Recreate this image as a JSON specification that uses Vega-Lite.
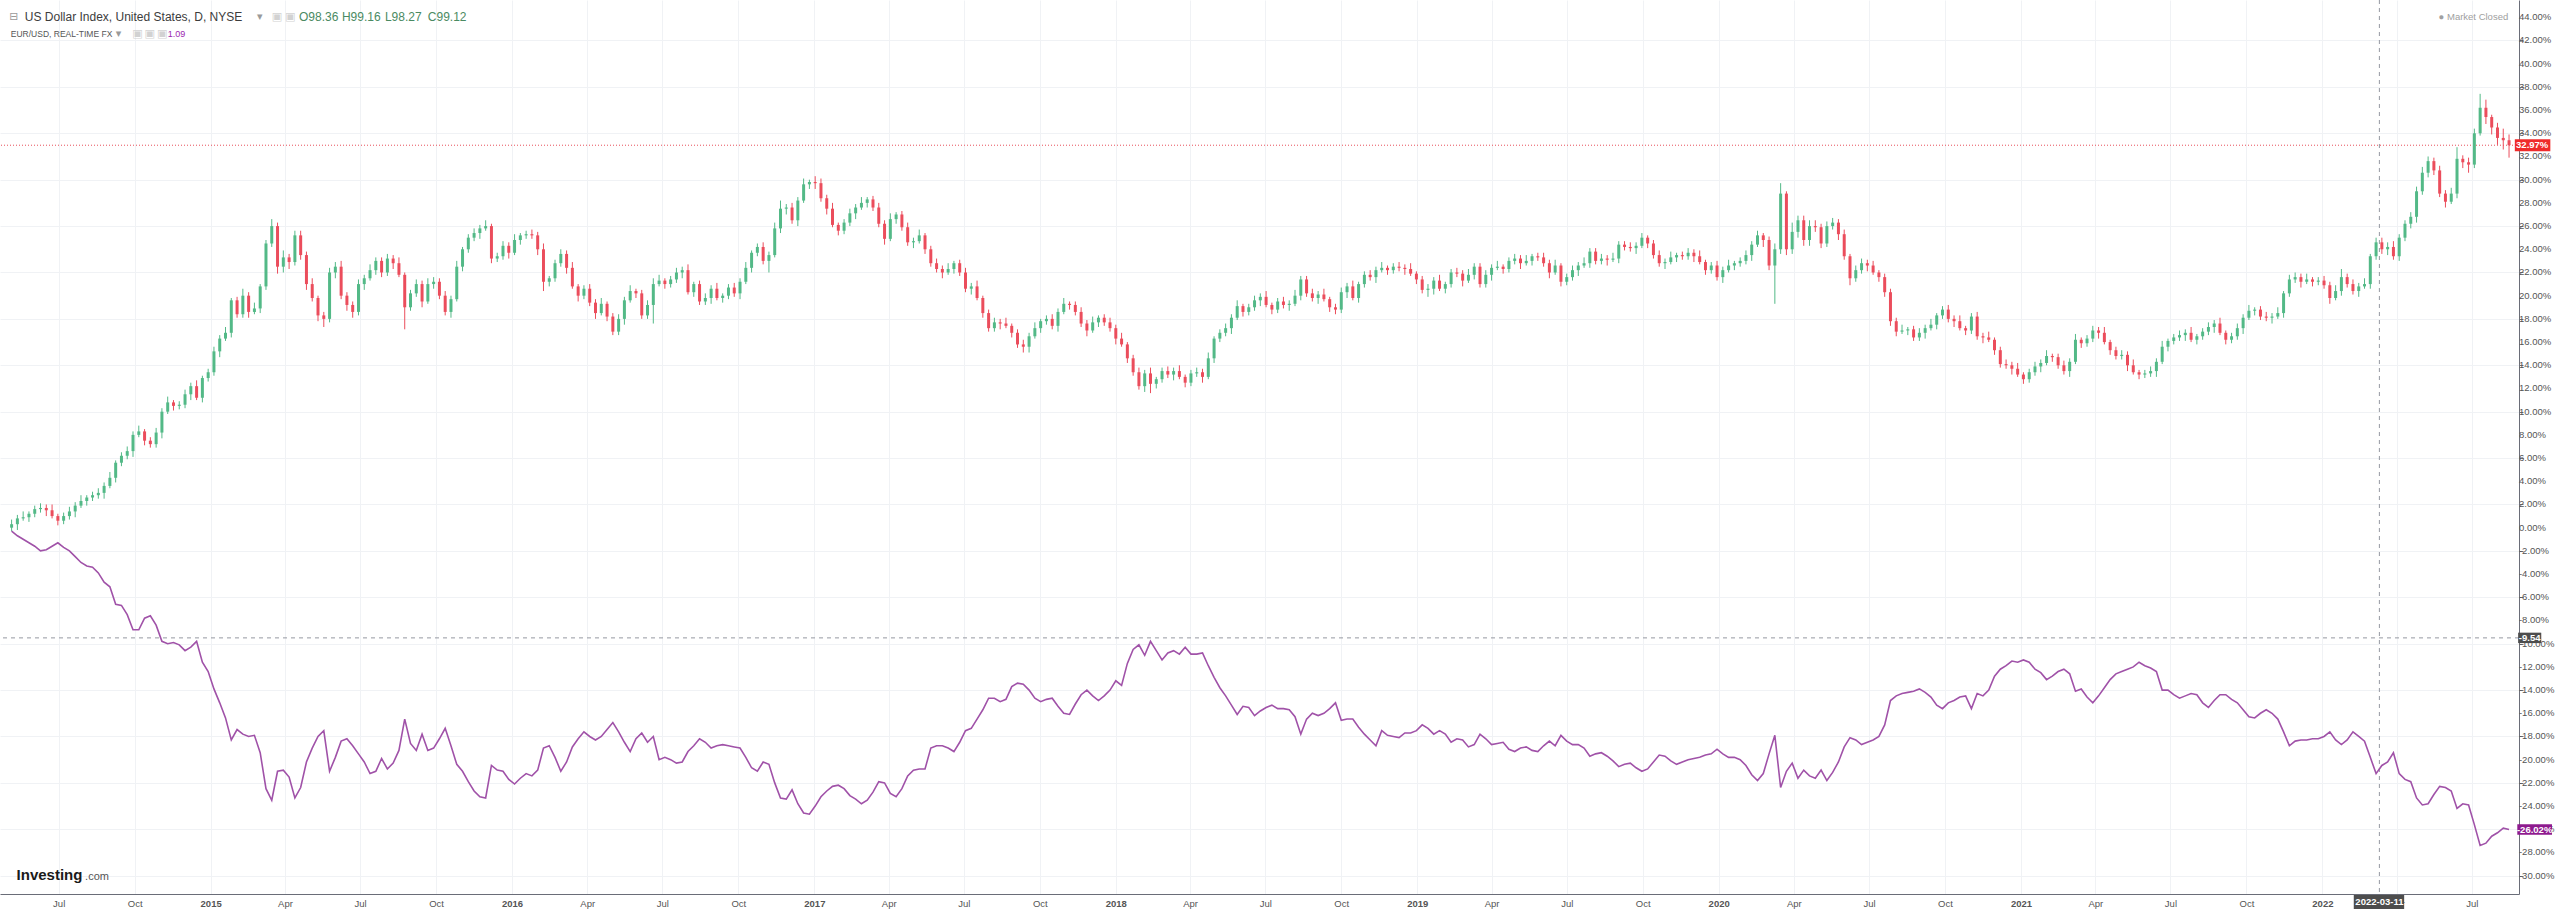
{
"$schema":"https://vega.github.io/schema/vega-lite/v6.json",
"width":2519,"height":894,"padding":{"left":0,"top":0,"right":41,"bottom":18},"autosize":{"type":"none"},
"background":"#ffffff",
"config":{"view":{"stroke":null},"font":"Liberation Sans"},
"datasets":{"w":[
{"d":"2014-05-05","o":0,"h":0.7,"l":-0.3,"c":0.3,"e":-0.3},
{"d":"2014-05-12","o":0.3,"h":1.1,"l":-0.2,"c":0.8,"e":-0.7},
{"d":"2014-05-19","o":0.8,"h":1.4,"l":0.6,"c":0.9,"e":-1.0},
{"d":"2014-05-26","o":0.9,"h":1.4,"l":0.5,"c":1.2,"e":-1.3},
{"d":"2014-06-02","o":1.2,"h":1.9,"l":0.9,"c":1.6,"e":-1.6},
{"d":"2014-06-09","o":1.6,"h":2.1,"l":1.3,"c":1.7,"e":-2.0},
{"d":"2014-06-16","o":1.7,"h":2.0,"l":1.0,"c":1.5,"e":-1.9},
{"d":"2014-06-23","o":1.5,"h":2.0,"l":0.8,"c":1.0,"e":-1.6},
{"d":"2014-06-30","o":1.0,"h":1.2,"l":0.2,"c":0.6,"e":-1.3},
{"d":"2014-07-07","o":0.6,"h":1.3,"l":0.3,"c":1.0,"e":-1.7},
{"d":"2014-07-14","o":1.0,"h":1.8,"l":0.7,"c":1.4,"e":-2.0},
{"d":"2014-07-21","o":1.4,"h":2.2,"l":0.9,"c":1.9,"e":-2.5},
{"d":"2014-07-28","o":1.9,"h":2.8,"l":1.7,"c":2.3,"e":-3.0},
{"d":"2014-08-04","o":2.3,"h":2.8,"l":1.9,"c":2.6,"e":-3.3},
{"d":"2014-08-11","o":2.6,"h":3.1,"l":2.3,"c":2.8,"e":-3.4},
{"d":"2014-08-18","o":2.8,"h":3.4,"l":2.5,"c":3.0,"e":-3.9},
{"d":"2014-08-25","o":3.0,"h":3.9,"l":2.5,"c":3.6,"e":-4.7},
{"d":"2014-09-01","o":3.6,"h":4.8,"l":3.4,"c":4.3,"e":-5.1},
{"d":"2014-09-08","o":4.3,"h":5.8,"l":3.9,"c":5.6,"e":-6.6},
{"d":"2014-09-15","o":5.6,"h":6.5,"l":5.3,"c":6.2,"e":-6.7},
{"d":"2014-09-22","o":6.2,"h":7.0,"l":5.9,"c":6.6,"e":-7.5},
{"d":"2014-09-29","o":6.6,"h":8.3,"l":6.1,"c":8.0,"e":-8.8},
{"d":"2014-10-06","o":8.0,"h":8.8,"l":7.8,"c":8.3,"e":-8.8},
{"d":"2014-10-13","o":8.3,"h":8.5,"l":7.1,"c":7.5,"e":-7.8},
{"d":"2014-10-20","o":7.5,"h":7.8,"l":6.9,"c":7.2,"e":-7.6},
{"d":"2014-10-27","o":7.2,"h":8.6,"l":6.9,"c":8.2,"e":-8.4},
{"d":"2014-11-03","o":8.2,"h":10.3,"l":7.7,"c":10.0,"e":-9.8},
{"d":"2014-11-10","o":10.0,"h":11.3,"l":9.8,"c":10.8,"e":-10.0},
{"d":"2014-11-17","o":10.8,"h":11.0,"l":10.1,"c":10.5,"e":-9.9},
{"d":"2014-11-24","o":10.5,"h":10.9,"l":10.2,"c":10.6,"e":-10.1},
{"d":"2014-12-01","o":10.6,"h":11.9,"l":10.3,"c":11.5,"e":-10.6},
{"d":"2014-12-08","o":11.5,"h":12.5,"l":11.0,"c":12.2,"e":-10.3},
{"d":"2014-12-15","o":12.2,"h":12.7,"l":11.0,"c":11.2,"e":-9.8},
{"d":"2014-12-22","o":11.2,"h":13.1,"l":10.8,"c":12.9,"e":-11.6},
{"d":"2014-12-29","o":12.9,"h":13.7,"l":12.6,"c":13.4,"e":-12.4},
{"d":"2015-01-05","o":13.4,"h":15.6,"l":13.1,"c":15.2,"e":-13.9},
{"d":"2015-01-12","o":15.2,"h":16.6,"l":14.7,"c":16.3,"e":-15.1},
{"d":"2015-01-19","o":16.3,"h":17.3,"l":16.1,"c":16.8,"e":-16.4},
{"d":"2015-01-26","o":16.8,"h":19.8,"l":16.4,"c":19.6,"e":-18.3},
{"d":"2015-02-02","o":19.6,"h":19.9,"l":18.1,"c":18.4,"e":-17.4},
{"d":"2015-02-09","o":18.4,"h":20.6,"l":18.1,"c":20.0,"e":-17.8},
{"d":"2015-02-16","o":20.0,"h":20.3,"l":18.1,"c":18.6,"e":-18.0},
{"d":"2015-02-23","o":18.6,"h":19.4,"l":18.4,"c":18.9,"e":-17.9},
{"d":"2015-03-02","o":18.9,"h":21.0,"l":18.5,"c":20.8,"e":-19.4},
{"d":"2015-03-09","o":20.8,"h":24.8,"l":20.5,"c":24.5,"e":-22.5},
{"d":"2015-03-16","o":24.5,"h":26.6,"l":24.2,"c":26.0,"e":-23.5},
{"d":"2015-03-23","o":26.0,"h":26.3,"l":21.9,"c":22.5,"e":-21.0},
{"d":"2015-03-30","o":22.5,"h":23.9,"l":22.0,"c":23.3,"e":-20.9},
{"d":"2015-04-06","o":23.3,"h":23.6,"l":22.3,"c":22.9,"e":-21.5},
{"d":"2015-04-13","o":22.9,"h":25.6,"l":22.6,"c":25.2,"e":-23.3},
{"d":"2015-04-20","o":25.2,"h":25.6,"l":23.1,"c":23.5,"e":-22.4},
{"d":"2015-04-27","o":23.5,"h":23.8,"l":20.5,"c":21.0,"e":-20.2},
{"d":"2015-05-04","o":21.0,"h":21.5,"l":19.5,"c":19.8,"e":-19.0},
{"d":"2015-05-11","o":19.8,"h":20.0,"l":17.8,"c":18.3,"e":-18.0},
{"d":"2015-05-18","o":18.3,"h":18.6,"l":17.3,"c":18.0,"e":-17.5},
{"d":"2015-05-25","o":18.0,"h":22.4,"l":17.7,"c":22.0,"e":-21.0},
{"d":"2015-06-01","o":22.0,"h":22.9,"l":21.5,"c":22.5,"e":-19.8},
{"d":"2015-06-08","o":22.5,"h":23.0,"l":19.7,"c":20.0,"e":-18.4},
{"d":"2015-06-15","o":20.0,"h":20.3,"l":18.7,"c":19.2,"e":-18.2},
{"d":"2015-06-22","o":19.2,"h":19.5,"l":18.1,"c":18.6,"e":-18.8},
{"d":"2015-06-29","o":18.6,"h":21.4,"l":18.3,"c":21.0,"e":-19.5},
{"d":"2015-07-06","o":21.0,"h":21.8,"l":20.5,"c":21.5,"e":-20.2},
{"d":"2015-07-13","o":21.5,"h":22.7,"l":21.3,"c":22.2,"e":-21.2},
{"d":"2015-07-20","o":22.2,"h":23.3,"l":21.8,"c":23.0,"e":-21.0},
{"d":"2015-07-27","o":23.0,"h":23.3,"l":21.6,"c":22.0,"e":-19.9},
{"d":"2015-08-03","o":22.0,"h":23.6,"l":21.7,"c":23.2,"e":-20.8},
{"d":"2015-08-10","o":23.2,"h":23.5,"l":22.3,"c":22.8,"e":-20.3},
{"d":"2015-08-17","o":22.8,"h":23.3,"l":21.6,"c":21.8,"e":-19.2},
{"d":"2015-08-24","o":21.8,"h":22.0,"l":17.1,"c":19.0,"e":-16.5},
{"d":"2015-08-31","o":19.0,"h":20.5,"l":18.7,"c":20.2,"e":-18.6},
{"d":"2015-09-07","o":20.2,"h":21.4,"l":19.9,"c":21.0,"e":-19.2},
{"d":"2015-09-14","o":21.0,"h":21.3,"l":19.0,"c":19.5,"e":-17.8},
{"d":"2015-09-21","o":19.5,"h":21.5,"l":19.3,"c":21.0,"e":-19.2},
{"d":"2015-09-28","o":21.0,"h":21.6,"l":20.6,"c":21.2,"e":-19.0},
{"d":"2015-10-05","o":21.2,"h":21.5,"l":19.7,"c":20.0,"e":-18.2},
{"d":"2015-10-12","o":20.0,"h":20.4,"l":18.3,"c":18.6,"e":-17.3},
{"d":"2015-10-19","o":18.6,"h":20.0,"l":18.1,"c":19.7,"e":-18.8},
{"d":"2015-10-26","o":19.7,"h":23.0,"l":19.5,"c":22.5,"e":-20.4},
{"d":"2015-11-02","o":22.5,"h":24.2,"l":22.1,"c":24.0,"e":-21.0},
{"d":"2015-11-09","o":24.0,"h":25.3,"l":23.7,"c":25.0,"e":-21.9},
{"d":"2015-11-16","o":25.0,"h":25.8,"l":24.7,"c":25.4,"e":-22.7},
{"d":"2015-11-23","o":25.4,"h":26.1,"l":24.9,"c":25.8,"e":-23.2},
{"d":"2015-11-30","o":25.8,"h":26.5,"l":25.6,"c":26.0,"e":-23.3},
{"d":"2015-12-07","o":26.0,"h":26.2,"l":22.8,"c":23.2,"e":-20.5},
{"d":"2015-12-14","o":23.2,"h":23.7,"l":22.9,"c":23.4,"e":-20.9},
{"d":"2015-12-21","o":23.4,"h":24.7,"l":23.1,"c":24.3,"e":-21.0},
{"d":"2015-12-28","o":24.3,"h":24.6,"l":23.2,"c":23.7,"e":-21.7},
{"d":"2016-01-04","o":23.7,"h":25.3,"l":23.5,"c":24.8,"e":-22.1},
{"d":"2016-01-11","o":24.8,"h":25.4,"l":24.4,"c":25.2,"e":-21.6},
{"d":"2016-01-18","o":25.2,"h":25.6,"l":24.9,"c":25.3,"e":-21.2},
{"d":"2016-01-25","o":25.3,"h":25.7,"l":24.9,"c":25.2,"e":-21.4},
{"d":"2016-02-01","o":25.2,"h":25.5,"l":23.5,"c":24.0,"e":-20.9},
{"d":"2016-02-08","o":24.0,"h":24.5,"l":20.4,"c":21.2,"e":-19.0},
{"d":"2016-02-15","o":21.2,"h":21.7,"l":20.8,"c":21.5,"e":-18.8},
{"d":"2016-02-22","o":21.5,"h":23.1,"l":21.2,"c":22.8,"e":-19.8},
{"d":"2016-02-29","o":22.8,"h":24.0,"l":22.5,"c":23.6,"e":-21.0},
{"d":"2016-03-07","o":23.6,"h":23.9,"l":21.9,"c":22.4,"e":-20.2},
{"d":"2016-03-14","o":22.4,"h":22.9,"l":20.6,"c":20.8,"e":-18.9},
{"d":"2016-03-21","o":20.8,"h":21.0,"l":19.5,"c":20.0,"e":-18.2},
{"d":"2016-03-28","o":20.0,"h":20.9,"l":19.7,"c":20.6,"e":-17.6},
{"d":"2016-04-04","o":20.6,"h":21.0,"l":19.1,"c":19.4,"e":-18.0},
{"d":"2016-04-11","o":19.4,"h":19.7,"l":18.0,"c":18.5,"e":-18.3},
{"d":"2016-04-18","o":18.5,"h":19.8,"l":18.3,"c":19.3,"e":-18.0},
{"d":"2016-04-25","o":19.3,"h":19.5,"l":17.8,"c":18.2,"e":-17.4},
{"d":"2016-05-02","o":18.2,"h":18.5,"l":16.6,"c":16.9,"e":-16.8},
{"d":"2016-05-09","o":16.9,"h":18.4,"l":16.6,"c":18.0,"e":-17.6},
{"d":"2016-05-16","o":18.0,"h":19.9,"l":17.5,"c":19.6,"e":-18.5},
{"d":"2016-05-23","o":19.6,"h":20.9,"l":19.4,"c":20.4,"e":-19.3},
{"d":"2016-05-30","o":20.4,"h":20.6,"l":19.8,"c":20.2,"e":-18.2},
{"d":"2016-06-06","o":20.2,"h":20.5,"l":18.0,"c":18.3,"e":-17.7},
{"d":"2016-06-13","o":18.3,"h":19.6,"l":18.0,"c":19.2,"e":-18.5},
{"d":"2016-06-20","o":19.2,"h":21.5,"l":17.6,"c":21.0,"e":-18.0},
{"d":"2016-06-27","o":21.0,"h":21.8,"l":20.8,"c":21.3,"e":-20.0},
{"d":"2016-07-04","o":21.3,"h":21.5,"l":20.6,"c":21.0,"e":-19.8},
{"d":"2016-07-11","o":21.0,"h":21.7,"l":20.7,"c":21.4,"e":-20.0},
{"d":"2016-07-18","o":21.4,"h":22.4,"l":21.1,"c":22.0,"e":-20.3},
{"d":"2016-07-25","o":22.0,"h":22.5,"l":21.5,"c":22.2,"e":-20.2},
{"d":"2016-08-01","o":22.2,"h":22.7,"l":20.1,"c":20.3,"e":-19.3},
{"d":"2016-08-08","o":20.3,"h":21.2,"l":19.9,"c":21.0,"e":-18.8},
{"d":"2016-08-15","o":21.0,"h":21.3,"l":19.2,"c":19.5,"e":-18.2},
{"d":"2016-08-22","o":19.5,"h":20.2,"l":19.2,"c":19.8,"e":-18.5},
{"d":"2016-08-29","o":19.8,"h":20.9,"l":19.3,"c":20.6,"e":-19.0},
{"d":"2016-09-05","o":20.6,"h":21.1,"l":19.6,"c":19.8,"e":-18.8},
{"d":"2016-09-12","o":19.8,"h":20.2,"l":19.4,"c":20.0,"e":-18.7},
{"d":"2016-09-19","o":20.0,"h":21.0,"l":19.7,"c":20.7,"e":-18.8},
{"d":"2016-09-26","o":20.7,"h":21.1,"l":19.9,"c":20.2,"e":-18.9},
{"d":"2016-10-03","o":20.2,"h":21.5,"l":19.7,"c":21.2,"e":-19.0},
{"d":"2016-10-10","o":21.2,"h":22.9,"l":21.0,"c":22.4,"e":-19.8},
{"d":"2016-10-17","o":22.4,"h":23.9,"l":22.0,"c":23.7,"e":-20.7},
{"d":"2016-10-24","o":23.7,"h":24.5,"l":23.4,"c":24.2,"e":-21.0},
{"d":"2016-10-31","o":24.2,"h":24.6,"l":22.7,"c":23.0,"e":-20.2},
{"d":"2016-11-07","o":23.0,"h":23.8,"l":22.0,"c":23.5,"e":-20.4},
{"d":"2016-11-14","o":23.5,"h":26.3,"l":23.3,"c":25.8,"e":-22.0},
{"d":"2016-11-21","o":25.8,"h":28.2,"l":25.4,"c":27.5,"e":-23.3},
{"d":"2016-11-28","o":27.5,"h":27.9,"l":27.0,"c":27.6,"e":-23.4},
{"d":"2016-12-05","o":27.6,"h":28.0,"l":26.2,"c":26.5,"e":-22.6},
{"d":"2016-12-12","o":26.5,"h":28.5,"l":26.0,"c":28.2,"e":-23.8},
{"d":"2016-12-19","o":28.2,"h":30.1,"l":28.0,"c":29.6,"e":-24.6},
{"d":"2016-12-26","o":29.6,"h":30.0,"l":29.2,"c":29.8,"e":-24.7},
{"d":"2017-01-02","o":29.8,"h":30.3,"l":29.2,"c":29.7,"e":-24.0},
{"d":"2017-01-09","o":29.7,"h":30.1,"l":28.1,"c":28.4,"e":-23.2},
{"d":"2017-01-16","o":28.4,"h":28.7,"l":27.0,"c":27.5,"e":-22.7},
{"d":"2017-01-23","o":27.5,"h":28.0,"l":25.9,"c":26.1,"e":-22.3},
{"d":"2017-01-30","o":26.1,"h":26.3,"l":25.2,"c":25.6,"e":-22.2},
{"d":"2017-02-06","o":25.6,"h":26.6,"l":25.3,"c":26.3,"e":-22.5},
{"d":"2017-02-13","o":26.3,"h":27.5,"l":26.0,"c":27.1,"e":-23.1},
{"d":"2017-02-20","o":27.1,"h":27.9,"l":26.6,"c":27.6,"e":-23.4},
{"d":"2017-02-27","o":27.6,"h":28.5,"l":27.4,"c":28.0,"e":-23.8},
{"d":"2017-03-06","o":28.0,"h":28.5,"l":27.6,"c":28.3,"e":-23.5},
{"d":"2017-03-13","o":28.3,"h":28.6,"l":27.3,"c":27.6,"e":-22.8},
{"d":"2017-03-20","o":27.6,"h":28.0,"l":25.9,"c":26.2,"e":-21.9},
{"d":"2017-03-27","o":26.2,"h":26.5,"l":24.4,"c":24.9,"e":-22.0},
{"d":"2017-04-03","o":24.9,"h":27.1,"l":24.7,"c":26.6,"e":-22.9},
{"d":"2017-04-10","o":26.6,"h":27.2,"l":26.2,"c":27.0,"e":-23.2},
{"d":"2017-04-17","o":27.0,"h":27.3,"l":25.6,"c":25.9,"e":-22.5},
{"d":"2017-04-24","o":25.9,"h":26.3,"l":24.3,"c":24.6,"e":-21.4},
{"d":"2017-05-01","o":24.6,"h":25.0,"l":24.1,"c":24.7,"e":-20.9},
{"d":"2017-05-08","o":24.7,"h":25.7,"l":24.5,"c":25.2,"e":-20.8},
{"d":"2017-05-15","o":25.2,"h":25.4,"l":23.6,"c":24.0,"e":-20.8},
{"d":"2017-05-22","o":24.0,"h":24.3,"l":22.5,"c":22.8,"e":-19.0},
{"d":"2017-05-29","o":22.8,"h":23.2,"l":22.0,"c":22.3,"e":-18.8},
{"d":"2017-06-05","o":22.3,"h":22.6,"l":21.5,"c":22.0,"e":-18.8},
{"d":"2017-06-12","o":22.0,"h":22.8,"l":21.8,"c":22.3,"e":-19.0},
{"d":"2017-06-19","o":22.3,"h":23.0,"l":21.9,"c":22.8,"e":-19.3},
{"d":"2017-06-26","o":22.8,"h":23.1,"l":21.7,"c":22.0,"e":-18.5},
{"d":"2017-07-03","o":22.0,"h":22.4,"l":20.3,"c":20.6,"e":-17.5},
{"d":"2017-07-10","o":20.6,"h":21.1,"l":20.1,"c":20.8,"e":-17.3},
{"d":"2017-07-17","o":20.8,"h":21.3,"l":19.6,"c":19.8,"e":-16.5},
{"d":"2017-07-24","o":19.8,"h":20.0,"l":18.1,"c":18.5,"e":-15.7},
{"d":"2017-07-31","o":18.5,"h":18.8,"l":16.9,"c":17.2,"e":-14.7},
{"d":"2017-08-07","o":17.2,"h":18.1,"l":16.9,"c":17.7,"e":-14.7},
{"d":"2017-08-14","o":17.7,"h":18.0,"l":17.1,"c":17.6,"e":-15.0},
{"d":"2017-08-21","o":17.6,"h":18.1,"l":17.2,"c":17.4,"e":-14.8},
{"d":"2017-08-28","o":17.4,"h":17.6,"l":16.4,"c":16.8,"e":-13.7},
{"d":"2017-09-04","o":16.8,"h":17.1,"l":15.5,"c":15.8,"e":-13.4},
{"d":"2017-09-11","o":15.8,"h":16.2,"l":15.1,"c":15.6,"e":-13.5},
{"d":"2017-09-18","o":15.6,"h":16.8,"l":15.1,"c":16.5,"e":-14.0},
{"d":"2017-09-25","o":16.5,"h":17.7,"l":16.3,"c":17.2,"e":-14.7},
{"d":"2017-10-02","o":17.2,"h":18.0,"l":16.8,"c":17.8,"e":-15.0},
{"d":"2017-10-09","o":17.8,"h":18.3,"l":17.5,"c":18.0,"e":-14.8},
{"d":"2017-10-16","o":18.0,"h":18.4,"l":17.1,"c":17.4,"e":-14.7},
{"d":"2017-10-23","o":17.4,"h":18.9,"l":16.9,"c":18.6,"e":-15.4},
{"d":"2017-10-30","o":18.6,"h":19.8,"l":18.4,"c":19.3,"e":-16.0},
{"d":"2017-11-06","o":19.3,"h":19.5,"l":18.8,"c":19.2,"e":-16.1},
{"d":"2017-11-13","o":19.2,"h":19.5,"l":18.3,"c":18.6,"e":-15.2},
{"d":"2017-11-20","o":18.6,"h":19.0,"l":17.3,"c":17.6,"e":-14.4},
{"d":"2017-11-27","o":17.6,"h":17.9,"l":16.5,"c":17.0,"e":-14.0},
{"d":"2017-12-04","o":17.0,"h":18.2,"l":16.8,"c":17.7,"e":-14.5},
{"d":"2017-12-11","o":17.7,"h":18.3,"l":17.3,"c":18.1,"e":-14.9},
{"d":"2017-12-18","o":18.1,"h":18.4,"l":17.4,"c":17.7,"e":-14.5},
{"d":"2017-12-25","o":17.7,"h":18.1,"l":16.9,"c":17.2,"e":-14.0},
{"d":"2018-01-01","o":17.2,"h":17.5,"l":15.8,"c":16.3,"e":-13.2},
{"d":"2018-01-08","o":16.3,"h":16.8,"l":15.6,"c":15.8,"e":-13.6},
{"d":"2018-01-15","o":15.8,"h":16.0,"l":14.2,"c":14.6,"e":-11.7},
{"d":"2018-01-22","o":14.6,"h":14.9,"l":13.1,"c":13.4,"e":-10.5},
{"d":"2018-01-29","o":13.4,"h":13.8,"l":11.9,"c":12.2,"e":-10.1},
{"d":"2018-02-05","o":12.2,"h":13.6,"l":11.7,"c":13.3,"e":-11.0},
{"d":"2018-02-12","o":13.3,"h":13.8,"l":11.6,"c":12.4,"e":-9.8},
{"d":"2018-02-19","o":12.4,"h":13.0,"l":12.0,"c":12.8,"e":-10.6},
{"d":"2018-02-26","o":12.8,"h":13.8,"l":12.5,"c":13.5,"e":-11.4},
{"d":"2018-03-05","o":13.5,"h":13.9,"l":12.9,"c":13.2,"e":-10.8},
{"d":"2018-03-12","o":13.2,"h":13.8,"l":12.7,"c":13.5,"e":-10.6},
{"d":"2018-03-19","o":13.5,"h":14.0,"l":12.8,"c":13.0,"e":-10.9},
{"d":"2018-03-26","o":13.0,"h":13.2,"l":12.1,"c":12.5,"e":-10.3},
{"d":"2018-04-02","o":12.5,"h":13.6,"l":12.2,"c":13.3,"e":-10.9},
{"d":"2018-04-09","o":13.3,"h":13.8,"l":13.0,"c":13.4,"e":-10.9},
{"d":"2018-04-16","o":13.4,"h":13.7,"l":12.5,"c":13.0,"e":-10.8},
{"d":"2018-04-23","o":13.0,"h":15.1,"l":12.8,"c":14.6,"e":-11.9},
{"d":"2018-04-30","o":14.6,"h":16.5,"l":14.2,"c":16.3,"e":-12.9},
{"d":"2018-05-07","o":16.3,"h":17.1,"l":16.0,"c":16.8,"e":-13.8},
{"d":"2018-05-14","o":16.8,"h":17.6,"l":16.5,"c":17.2,"e":-14.5},
{"d":"2018-05-21","o":17.2,"h":18.4,"l":16.7,"c":18.1,"e":-15.3},
{"d":"2018-05-28","o":18.1,"h":19.6,"l":17.9,"c":19.1,"e":-16.1},
{"d":"2018-06-04","o":19.1,"h":19.3,"l":18.2,"c":18.6,"e":-15.4},
{"d":"2018-06-11","o":18.6,"h":19.3,"l":18.3,"c":19.0,"e":-15.5},
{"d":"2018-06-18","o":19.0,"h":20.0,"l":18.7,"c":19.6,"e":-16.2},
{"d":"2018-06-25","o":19.6,"h":20.2,"l":19.1,"c":19.9,"e":-15.8},
{"d":"2018-07-02","o":19.9,"h":20.4,"l":19.0,"c":19.2,"e":-15.5},
{"d":"2018-07-09","o":19.2,"h":19.4,"l":18.4,"c":18.8,"e":-15.3},
{"d":"2018-07-16","o":18.8,"h":19.8,"l":18.5,"c":19.5,"e":-15.6},
{"d":"2018-07-23","o":19.5,"h":19.9,"l":18.9,"c":19.2,"e":-15.6},
{"d":"2018-07-30","o":19.2,"h":19.6,"l":18.7,"c":19.3,"e":-15.7},
{"d":"2018-08-06","o":19.3,"h":20.5,"l":19.1,"c":20.0,"e":-16.3},
{"d":"2018-08-13","o":20.0,"h":21.7,"l":19.6,"c":21.4,"e":-17.8},
{"d":"2018-08-20","o":21.4,"h":21.7,"l":19.9,"c":20.2,"e":-16.5},
{"d":"2018-08-27","o":20.2,"h":20.6,"l":19.5,"c":19.8,"e":-16.0},
{"d":"2018-09-03","o":19.8,"h":20.4,"l":19.3,"c":20.1,"e":-16.2},
{"d":"2018-09-10","o":20.1,"h":20.6,"l":19.5,"c":19.7,"e":-16.0},
{"d":"2018-09-17","o":19.7,"h":19.9,"l":18.6,"c":19.0,"e":-15.6},
{"d":"2018-09-24","o":19.0,"h":19.3,"l":18.4,"c":18.8,"e":-15.1},
{"d":"2018-10-01","o":18.8,"h":20.7,"l":18.5,"c":20.3,"e":-16.6},
{"d":"2018-10-08","o":20.3,"h":21.1,"l":19.8,"c":20.8,"e":-16.5},
{"d":"2018-10-15","o":20.8,"h":21.3,"l":19.6,"c":19.8,"e":-16.5},
{"d":"2018-10-22","o":19.8,"h":21.2,"l":19.4,"c":21.0,"e":-17.2},
{"d":"2018-10-29","o":21.0,"h":22.1,"l":20.7,"c":21.8,"e":-17.8},
{"d":"2018-11-05","o":21.8,"h":22.2,"l":21.3,"c":21.6,"e":-18.3},
{"d":"2018-11-12","o":21.6,"h":22.5,"l":21.1,"c":22.2,"e":-18.8},
{"d":"2018-11-19","o":22.2,"h":22.9,"l":22.0,"c":22.4,"e":-17.5},
{"d":"2018-11-26","o":22.4,"h":22.6,"l":21.8,"c":22.2,"e":-17.9},
{"d":"2018-12-03","o":22.2,"h":22.8,"l":21.9,"c":22.5,"e":-18.0},
{"d":"2018-12-10","o":22.5,"h":22.9,"l":22.1,"c":22.4,"e":-18.1},
{"d":"2018-12-17","o":22.4,"h":22.7,"l":21.8,"c":22.3,"e":-17.7},
{"d":"2018-12-24","o":22.3,"h":22.8,"l":21.7,"c":21.9,"e":-17.7},
{"d":"2018-12-31","o":21.9,"h":22.1,"l":21.0,"c":21.4,"e":-17.5},
{"d":"2019-01-07","o":21.4,"h":21.7,"l":20.2,"c":20.5,"e":-17.0},
{"d":"2019-01-14","o":20.5,"h":21.0,"l":19.9,"c":20.6,"e":-17.3},
{"d":"2019-01-21","o":20.6,"h":21.6,"l":20.1,"c":21.3,"e":-17.8},
{"d":"2019-01-28","o":21.3,"h":21.8,"l":20.4,"c":20.6,"e":-17.5},
{"d":"2019-02-04","o":20.6,"h":21.2,"l":20.2,"c":21.0,"e":-17.8},
{"d":"2019-02-11","o":21.0,"h":22.3,"l":20.7,"c":22.0,"e":-18.5},
{"d":"2019-02-18","o":22.0,"h":22.4,"l":21.6,"c":21.9,"e":-18.2},
{"d":"2019-02-25","o":21.9,"h":22.2,"l":20.8,"c":21.3,"e":-18.3},
{"d":"2019-03-04","o":21.3,"h":22.3,"l":21.1,"c":21.8,"e":-18.9},
{"d":"2019-03-11","o":21.8,"h":22.8,"l":21.4,"c":22.5,"e":-18.7},
{"d":"2019-03-18","o":22.5,"h":22.8,"l":20.7,"c":21.0,"e":-17.8},
{"d":"2019-03-25","o":21.0,"h":22.2,"l":20.7,"c":21.8,"e":-18.2},
{"d":"2019-04-01","o":21.8,"h":22.7,"l":21.3,"c":22.4,"e":-18.7},
{"d":"2019-04-08","o":22.4,"h":23.0,"l":22.2,"c":22.5,"e":-18.6},
{"d":"2019-04-15","o":22.5,"h":22.7,"l":21.9,"c":22.3,"e":-18.5},
{"d":"2019-04-22","o":22.3,"h":23.3,"l":22.0,"c":23.0,"e":-19.1},
{"d":"2019-04-29","o":23.0,"h":23.6,"l":22.7,"c":23.2,"e":-19.3},
{"d":"2019-05-06","o":23.2,"h":23.5,"l":22.3,"c":22.8,"e":-19.0},
{"d":"2019-05-13","o":22.8,"h":23.5,"l":22.6,"c":23.0,"e":-18.9},
{"d":"2019-05-20","o":23.0,"h":23.6,"l":22.6,"c":23.4,"e":-19.2},
{"d":"2019-05-27","o":23.4,"h":23.7,"l":23.0,"c":23.3,"e":-19.3},
{"d":"2019-06-03","o":23.3,"h":23.7,"l":22.5,"c":22.8,"e":-18.8},
{"d":"2019-06-10","o":22.8,"h":23.1,"l":21.5,"c":22.0,"e":-18.4},
{"d":"2019-06-17","o":22.0,"h":23.1,"l":21.8,"c":22.6,"e":-18.8},
{"d":"2019-06-24","o":22.6,"h":22.8,"l":20.8,"c":21.2,"e":-17.9},
{"d":"2019-07-01","o":21.2,"h":21.9,"l":20.9,"c":21.6,"e":-18.4},
{"d":"2019-07-08","o":21.6,"h":22.6,"l":21.3,"c":22.2,"e":-18.7},
{"d":"2019-07-15","o":22.2,"h":22.9,"l":21.7,"c":22.6,"e":-18.7},
{"d":"2019-07-22","o":22.6,"h":23.3,"l":22.4,"c":22.8,"e":-19.0},
{"d":"2019-07-29","o":22.8,"h":24.1,"l":22.4,"c":23.8,"e":-19.7},
{"d":"2019-08-05","o":23.8,"h":24.1,"l":22.7,"c":23.0,"e":-19.5},
{"d":"2019-08-12","o":23.0,"h":23.6,"l":22.7,"c":23.2,"e":-19.4},
{"d":"2019-08-19","o":23.2,"h":23.5,"l":22.6,"c":23.1,"e":-19.7},
{"d":"2019-08-26","o":23.1,"h":23.7,"l":22.9,"c":23.2,"e":-20.1},
{"d":"2019-09-02","o":23.2,"h":24.7,"l":22.8,"c":24.4,"e":-20.6},
{"d":"2019-09-09","o":24.4,"h":24.7,"l":23.9,"c":24.2,"e":-20.4},
{"d":"2019-09-16","o":24.2,"h":24.6,"l":23.8,"c":24.1,"e":-20.3},
{"d":"2019-09-23","o":24.1,"h":24.6,"l":23.6,"c":24.3,"e":-20.7},
{"d":"2019-09-30","o":24.3,"h":25.4,"l":24.1,"c":25.0,"e":-21.0},
{"d":"2019-10-07","o":25.0,"h":25.2,"l":24.1,"c":24.5,"e":-20.8},
{"d":"2019-10-14","o":24.5,"h":24.8,"l":23.2,"c":23.5,"e":-20.2},
{"d":"2019-10-21","o":23.5,"h":23.9,"l":22.5,"c":22.8,"e":-19.6},
{"d":"2019-10-28","o":22.8,"h":23.2,"l":22.3,"c":22.9,"e":-19.7},
{"d":"2019-11-04","o":22.9,"h":23.8,"l":22.7,"c":23.3,"e":-20.1},
{"d":"2019-11-11","o":23.3,"h":23.7,"l":22.9,"c":23.5,"e":-20.4},
{"d":"2019-11-18","o":23.5,"h":23.8,"l":23.1,"c":23.4,"e":-20.2},
{"d":"2019-11-25","o":23.4,"h":24.1,"l":23.1,"c":23.7,"e":-20.0},
{"d":"2019-12-02","o":23.7,"h":24.0,"l":22.9,"c":23.4,"e":-19.9},
{"d":"2019-12-09","o":23.4,"h":23.9,"l":22.7,"c":22.9,"e":-19.8},
{"d":"2019-12-16","o":22.9,"h":23.1,"l":21.8,"c":22.2,"e":-19.6},
{"d":"2019-12-23","o":22.2,"h":22.9,"l":21.9,"c":22.6,"e":-19.5},
{"d":"2019-12-30","o":22.6,"h":23.0,"l":21.3,"c":21.6,"e":-19.1},
{"d":"2020-01-06","o":21.6,"h":22.5,"l":21.1,"c":22.2,"e":-19.5},
{"d":"2020-01-13","o":22.2,"h":23.1,"l":22.0,"c":22.6,"e":-19.8},
{"d":"2020-01-20","o":22.6,"h":23.0,"l":22.2,"c":22.8,"e":-19.8},
{"d":"2020-01-27","o":22.8,"h":23.3,"l":22.5,"c":23.0,"e":-20.0},
{"d":"2020-02-03","o":23.0,"h":23.9,"l":22.7,"c":23.5,"e":-20.5},
{"d":"2020-02-10","o":23.5,"h":24.7,"l":23.0,"c":24.4,"e":-21.3},
{"d":"2020-02-17","o":24.4,"h":25.6,"l":24.2,"c":25.2,"e":-21.8},
{"d":"2020-02-24","o":25.2,"h":25.4,"l":24.2,"c":24.8,"e":-21.2},
{"d":"2020-03-02","o":24.8,"h":25.1,"l":22.2,"c":22.6,"e":-19.5},
{"d":"2020-03-09","o":22.6,"h":24.5,"l":19.3,"c":24.0,"e":-17.9},
{"d":"2020-03-16","o":24.0,"h":29.7,"l":23.6,"c":28.8,"e":-22.4},
{"d":"2020-03-23","o":28.8,"h":29.0,"l":23.5,"c":24.0,"e":-21.0},
{"d":"2020-03-30","o":24.0,"h":26.3,"l":23.6,"c":25.5,"e":-20.3},
{"d":"2020-04-06","o":25.5,"h":26.9,"l":25.0,"c":26.5,"e":-21.6},
{"d":"2020-04-13","o":26.5,"h":26.9,"l":24.3,"c":24.8,"e":-20.9},
{"d":"2020-04-20","o":24.8,"h":26.5,"l":24.3,"c":26.0,"e":-21.4},
{"d":"2020-04-27","o":26.0,"h":26.5,"l":25.5,"c":25.9,"e":-21.6},
{"d":"2020-05-04","o":25.9,"h":26.2,"l":24.1,"c":24.5,"e":-20.9},
{"d":"2020-05-11","o":24.5,"h":26.4,"l":24.2,"c":26.0,"e":-21.8},
{"d":"2020-05-18","o":26.0,"h":26.7,"l":25.7,"c":26.3,"e":-21.1},
{"d":"2020-05-25","o":26.3,"h":26.6,"l":24.8,"c":25.3,"e":-20.2},
{"d":"2020-06-01","o":25.3,"h":25.7,"l":23.1,"c":23.4,"e":-18.9},
{"d":"2020-06-08","o":23.4,"h":23.6,"l":20.9,"c":21.5,"e":-18.1},
{"d":"2020-06-15","o":21.5,"h":22.6,"l":21.2,"c":22.2,"e":-18.3},
{"d":"2020-06-22","o":22.2,"h":23.2,"l":21.9,"c":22.8,"e":-18.7},
{"d":"2020-06-29","o":22.8,"h":23.1,"l":22.1,"c":22.6,"e":-18.5},
{"d":"2020-07-06","o":22.6,"h":23.0,"l":21.8,"c":22.0,"e":-18.3},
{"d":"2020-07-13","o":22.0,"h":22.2,"l":21.2,"c":21.6,"e":-18.0},
{"d":"2020-07-20","o":21.6,"h":21.9,"l":19.9,"c":20.3,"e":-17.0},
{"d":"2020-07-27","o":20.3,"h":20.6,"l":17.4,"c":17.8,"e":-14.9},
{"d":"2020-08-03","o":17.8,"h":18.1,"l":16.5,"c":16.9,"e":-14.5},
{"d":"2020-08-10","o":16.9,"h":17.5,"l":16.7,"c":17.0,"e":-14.3},
{"d":"2020-08-17","o":17.0,"h":17.3,"l":16.6,"c":17.1,"e":-14.2},
{"d":"2020-08-24","o":17.1,"h":17.4,"l":16.1,"c":16.4,"e":-14.1},
{"d":"2020-08-31","o":16.4,"h":17.2,"l":16.1,"c":16.8,"e":-13.9},
{"d":"2020-09-07","o":16.8,"h":17.5,"l":16.3,"c":17.2,"e":-14.2},
{"d":"2020-09-14","o":17.2,"h":18.0,"l":17.0,"c":17.5,"e":-14.6},
{"d":"2020-09-21","o":17.5,"h":18.5,"l":17.1,"c":18.3,"e":-15.3},
{"d":"2020-09-28","o":18.3,"h":19.1,"l":18.0,"c":18.8,"e":-15.6},
{"d":"2020-10-05","o":18.8,"h":19.2,"l":17.7,"c":18.0,"e":-15.1},
{"d":"2020-10-12","o":18.0,"h":18.3,"l":17.3,"c":17.8,"e":-14.9},
{"d":"2020-10-19","o":17.8,"h":18.3,"l":17.0,"c":17.2,"e":-14.6},
{"d":"2020-10-26","o":17.2,"h":17.4,"l":16.6,"c":17.0,"e":-14.5},
{"d":"2020-11-02","o":17.0,"h":18.5,"l":16.7,"c":18.2,"e":-15.6},
{"d":"2020-11-09","o":18.2,"h":18.6,"l":16.2,"c":16.5,"e":-14.3},
{"d":"2020-11-16","o":16.5,"h":16.8,"l":15.9,"c":16.4,"e":-14.5},
{"d":"2020-11-23","o":16.4,"h":16.9,"l":16.0,"c":16.2,"e":-14.0},
{"d":"2020-11-30","o":16.2,"h":16.4,"l":14.9,"c":15.3,"e":-12.8},
{"d":"2020-12-07","o":15.3,"h":15.6,"l":13.8,"c":14.1,"e":-12.2},
{"d":"2020-12-14","o":14.1,"h":14.5,"l":13.7,"c":14.0,"e":-11.9},
{"d":"2020-12-21","o":14.0,"h":14.3,"l":13.2,"c":13.7,"e":-11.5},
{"d":"2020-12-28","o":13.7,"h":14.2,"l":13.0,"c":13.2,"e":-11.6},
{"d":"2021-01-04","o":13.2,"h":13.4,"l":12.4,"c":12.8,"e":-11.4},
{"d":"2021-01-11","o":12.8,"h":13.7,"l":12.5,"c":13.4,"e":-11.6},
{"d":"2021-01-18","o":13.4,"h":14.3,"l":13.1,"c":13.9,"e":-12.2},
{"d":"2021-01-25","o":13.9,"h":14.5,"l":13.4,"c":14.2,"e":-12.5},
{"d":"2021-02-01","o":14.2,"h":15.3,"l":14.0,"c":14.8,"e":-13.1},
{"d":"2021-02-08","o":14.8,"h":15.0,"l":14.3,"c":14.7,"e":-12.8},
{"d":"2021-02-15","o":14.7,"h":15.0,"l":13.7,"c":14.0,"e":-12.4},
{"d":"2021-02-22","o":14.0,"h":14.4,"l":13.2,"c":13.5,"e":-12.2},
{"d":"2021-03-01","o":13.5,"h":14.6,"l":13.0,"c":14.3,"e":-12.6},
{"d":"2021-03-08","o":14.3,"h":16.7,"l":14.1,"c":16.2,"e":-14.1},
{"d":"2021-03-15","o":16.2,"h":16.4,"l":15.5,"c":15.9,"e":-13.9},
{"d":"2021-03-22","o":15.9,"h":16.6,"l":15.6,"c":16.3,"e":-14.6},
{"d":"2021-03-29","o":16.3,"h":17.4,"l":16.0,"c":17.0,"e":-15.1},
{"d":"2021-04-05","o":17.0,"h":17.3,"l":16.3,"c":16.8,"e":-14.5},
{"d":"2021-04-12","o":16.8,"h":17.3,"l":15.8,"c":16.0,"e":-13.8},
{"d":"2021-04-19","o":16.0,"h":16.2,"l":14.9,"c":15.3,"e":-13.1},
{"d":"2021-04-26","o":15.3,"h":15.6,"l":14.5,"c":14.8,"e":-12.6},
{"d":"2021-05-03","o":14.8,"h":15.3,"l":14.5,"c":14.9,"e":-12.4},
{"d":"2021-05-10","o":14.9,"h":15.2,"l":13.5,"c":14.0,"e":-12.2},
{"d":"2021-05-17","o":14.0,"h":14.5,"l":13.2,"c":13.4,"e":-12.0},
{"d":"2021-05-24","o":13.4,"h":13.6,"l":12.8,"c":13.2,"e":-11.6},
{"d":"2021-05-31","o":13.2,"h":13.6,"l":12.9,"c":13.3,"e":-11.9},
{"d":"2021-06-07","o":13.3,"h":13.9,"l":13.0,"c":13.5,"e":-12.1},
{"d":"2021-06-14","o":13.5,"h":14.6,"l":13.0,"c":14.3,"e":-12.4},
{"d":"2021-06-21","o":14.3,"h":16.1,"l":14.1,"c":15.6,"e":-14.0},
{"d":"2021-06-28","o":15.6,"h":16.3,"l":15.2,"c":16.1,"e":-14.0},
{"d":"2021-07-05","o":16.1,"h":16.7,"l":15.8,"c":16.4,"e":-14.4},
{"d":"2021-07-12","o":16.4,"h":17.0,"l":16.1,"c":16.6,"e":-14.7},
{"d":"2021-07-19","o":16.6,"h":17.1,"l":16.1,"c":16.8,"e":-14.5},
{"d":"2021-07-26","o":16.8,"h":17.3,"l":16.0,"c":16.2,"e":-14.3},
{"d":"2021-08-02","o":16.2,"h":16.7,"l":15.8,"c":16.5,"e":-14.4},
{"d":"2021-08-09","o":16.5,"h":17.2,"l":16.2,"c":16.9,"e":-15.1},
{"d":"2021-08-16","o":16.9,"h":17.7,"l":16.6,"c":17.3,"e":-15.5},
{"d":"2021-08-23","o":17.3,"h":17.9,"l":16.8,"c":17.6,"e":-14.9},
{"d":"2021-08-30","o":17.6,"h":18.1,"l":16.6,"c":16.8,"e":-14.4},
{"d":"2021-09-06","o":16.8,"h":17.0,"l":15.8,"c":16.2,"e":-14.4},
{"d":"2021-09-13","o":16.2,"h":16.8,"l":15.9,"c":16.5,"e":-14.8},
{"d":"2021-09-20","o":16.5,"h":17.6,"l":16.2,"c":17.2,"e":-15.1},
{"d":"2021-09-27","o":17.2,"h":18.4,"l":16.7,"c":18.1,"e":-15.7},
{"d":"2021-10-04","o":18.1,"h":19.2,"l":17.9,"c":18.7,"e":-16.3},
{"d":"2021-10-11","o":18.7,"h":19.0,"l":18.3,"c":18.8,"e":-16.4},
{"d":"2021-10-18","o":18.8,"h":19.1,"l":17.9,"c":18.2,"e":-16.0},
{"d":"2021-10-25","o":18.2,"h":18.6,"l":17.8,"c":18.1,"e":-15.7},
{"d":"2021-11-01","o":18.1,"h":18.5,"l":17.6,"c":18.2,"e":-16.0},
{"d":"2021-11-08","o":18.2,"h":19.0,"l":18.0,"c":18.5,"e":-16.5},
{"d":"2021-11-15","o":18.5,"h":20.4,"l":18.1,"c":20.2,"e":-17.6},
{"d":"2021-11-22","o":20.2,"h":21.8,"l":19.9,"c":21.4,"e":-18.8},
{"d":"2021-11-29","o":21.4,"h":22.0,"l":21.1,"c":21.6,"e":-18.4},
{"d":"2021-12-06","o":21.6,"h":21.9,"l":20.7,"c":21.2,"e":-18.3},
{"d":"2021-12-13","o":21.2,"h":21.9,"l":21.0,"c":21.4,"e":-18.3},
{"d":"2021-12-20","o":21.4,"h":21.6,"l":20.8,"c":21.2,"e":-18.2},
{"d":"2021-12-27","o":21.2,"h":21.6,"l":20.9,"c":21.3,"e":-18.2},
{"d":"2022-01-03","o":21.3,"h":21.7,"l":20.6,"c":20.9,"e":-18.0},
{"d":"2022-01-10","o":20.9,"h":21.2,"l":19.3,"c":19.8,"e":-17.6},
{"d":"2022-01-17","o":19.8,"h":20.9,"l":19.6,"c":20.4,"e":-18.3},
{"d":"2022-01-24","o":20.4,"h":22.3,"l":20.0,"c":21.6,"e":-18.7},
{"d":"2022-01-31","o":21.6,"h":21.9,"l":20.7,"c":21.0,"e":-18.3},
{"d":"2022-02-07","o":21.0,"h":21.4,"l":20.1,"c":20.4,"e":-17.6},
{"d":"2022-02-14","o":20.4,"h":21.1,"l":19.9,"c":20.8,"e":-18.0},
{"d":"2022-02-21","o":20.8,"h":21.5,"l":20.6,"c":21.0,"e":-18.4},
{"d":"2022-02-28","o":21.0,"h":23.6,"l":20.6,"c":23.4,"e":-19.8},
{"d":"2022-03-07","o":23.4,"h":25.0,"l":23.1,"c":24.6,"e":-21.2},
{"d":"2022-03-14","o":24.6,"h":25.0,"l":23.6,"c":24.0,"e":-20.5},
{"d":"2022-03-21","o":24.0,"h":24.6,"l":23.5,"c":24.2,"e":-20.2},
{"d":"2022-03-28","o":24.2,"h":24.7,"l":23.1,"c":23.4,"e":-19.4},
{"d":"2022-04-04","o":23.4,"h":25.3,"l":23.0,"c":25.0,"e":-21.2},
{"d":"2022-04-11","o":25.0,"h":26.5,"l":24.7,"c":26.2,"e":-21.7},
{"d":"2022-04-18","o":26.2,"h":27.2,"l":25.8,"c":26.8,"e":-21.9},
{"d":"2022-04-25","o":26.8,"h":29.4,"l":26.3,"c":29.0,"e":-23.3},
{"d":"2022-05-02","o":29.0,"h":31.1,"l":28.7,"c":30.6,"e":-23.9},
{"d":"2022-05-09","o":30.6,"h":32.0,"l":30.2,"c":31.6,"e":-23.8},
{"d":"2022-05-16","o":31.6,"h":31.9,"l":30.4,"c":30.8,"e":-23.0},
{"d":"2022-05-23","o":30.8,"h":31.2,"l":28.5,"c":28.8,"e":-22.3},
{"d":"2022-05-30","o":28.8,"h":29.1,"l":27.6,"c":28.1,"e":-22.4},
{"d":"2022-06-06","o":28.1,"h":29.3,"l":27.9,"c":28.8,"e":-22.7},
{"d":"2022-06-13","o":28.8,"h":32.8,"l":28.4,"c":31.8,"e":-24.2},
{"d":"2022-06-20","o":31.8,"h":32.1,"l":31.0,"c":31.5,"e":-23.8},
{"d":"2022-06-27","o":31.5,"h":31.9,"l":30.6,"c":31.3,"e":-23.9},
{"d":"2022-07-04","o":31.3,"h":34.4,"l":31.0,"c":34.0,"e":-25.6},
{"d":"2022-07-11","o":34.0,"h":37.4,"l":33.8,"c":36.2,"e":-27.4},
{"d":"2022-07-18","o":36.2,"h":36.9,"l":34.8,"c":35.4,"e":-27.2},
{"d":"2022-07-25","o":35.4,"h":35.6,"l":33.9,"c":34.5,"e":-26.6},
{"d":"2022-08-01","o":34.5,"h":34.9,"l":33.0,"c":33.6,"e":-26.3},
{"d":"2022-08-08","o":33.6,"h":34.4,"l":32.6,"c":33.4,"e":-25.9},
{"d":"2022-08-15","o":33.4,"h":33.9,"l":31.9,"c":32.97,"e":-26.02}
],
"ylab":[
{"v":-30,"t":"-30.00%"},{"v":-28,"t":"-28.00%"},{"v":-26,"t":"-26.00%"},{"v":-24,"t":"-24.00%"},
{"v":-22,"t":"-22.00%"},{"v":-20,"t":"-20.00%"},{"v":-18,"t":"-18.00%"},{"v":-16,"t":"-16.00%"},
{"v":-14,"t":"-14.00%"},{"v":-12,"t":"-12.00%"},{"v":-10,"t":"-10.00%"},{"v":-8,"t":"-8.00%"},
{"v":-6,"t":"-6.00%"},{"v":-4,"t":"-4.00%"},{"v":-2,"t":"-2.00%"},{"v":0,"t":"0.00%"},
{"v":2,"t":"2.00%"},{"v":4,"t":"4.00%"},{"v":6,"t":"6.00%"},{"v":8,"t":"8.00%"},
{"v":10,"t":"10.00%"},{"v":12,"t":"12.00%"},{"v":14,"t":"14.00%"},{"v":16,"t":"16.00%"},
{"v":18,"t":"18.00%"},{"v":20,"t":"20.00%"},{"v":22,"t":"22.00%"},{"v":24,"t":"24.00%"},
{"v":26,"t":"26.00%"},{"v":28,"t":"28.00%"},{"v":30,"t":"30.00%"},{"v":32,"t":"32.00%"},
{"v":34,"t":"34.00%"},{"v":36,"t":"36.00%"},{"v":38,"t":"38.00%"},{"v":40,"t":"40.00%"},
{"v":42,"t":"42.00%"},{"v":44,"t":"44.00%"}
]},
"layer":[
{"data":{"values":[{"y":32.97}]},
 "mark":{"type":"rule","color":"#e8505b","strokeDash":[1,2],"strokeWidth":1},
 "encoding":{"y":{"field":"y","type":"quantitative",
   "scale":{"domain":[-31.58,45.49],"nice":false,"zero":false},
   "axis":{"orient":"right","title":null,"zindex":0,
     "values":[-30,-28,-26,-24,-22,-20,-18,-16,-14,-12,-10,-8,-6,-4,-2,0,2,4,6,8,10,12,14,16,18,20,22,24,26,28,30,32,34,36,38,40,42,44],
     "labels":false,
     "grid":true,"gridColor":"#f0f2f5","gridWidth":1,
     "domainColor":"#6a6d78","tickColor":"#6a6d78","tickSize":4}}}},
{"data":{"values":[{"d":"2022-03-11"}]},
 "mark":{"type":"rule","color":"#9598a1","strokeDash":[4,4],"strokeWidth":1},
 "encoding":{"x":{"field":"d","type":"temporal",
   "scale":{"domain":[{"year":2014,"month":4,"date":27},{"year":2022,"month":8,"date":21}]},
   "axis":{"orient":"bottom","title":null,"zindex":0,
     "tickCount":{"interval":"month","step":3},
     "labelExpr":"month(datum.value)==0?timeFormat(datum.value,'%Y'):timeFormat(datum.value,'%b')",
     "labelFontWeight":{"condition":{"test":"month(datum.value)==0","value":"bold"},"value":"normal"},
     "grid":true,"gridColor":"#f0f2f5","ticks":false,
     "domainColor":"#6a6d78","labelFontSize":9.5,"labelColor":"#555555","labelPadding":4,
     "labelOverlap":false,"labelFlush":false,"labelFont":"Liberation Sans"}}}},
{"data":{"name":"ylab"},
 "mark":{"type":"text","color":"#555555","fontSize":9.5,"align":"left","baseline":"middle"},
 "encoding":{
   "x":{"datum":{"year":2022,"month":8,"date":27},"type":"temporal","scale":{"domain":[{"year":2014,"month":4,"date":27},{"year":2022,"month":8,"date":21}]}},
   "y":{"field":"v","type":"quantitative","axis":{"orient":"right"},"scale":{"domain":[-31.58,45.49],"nice":false,"zero":false}},
   "text":{"field":"t"}}},
{"data":{"values":[{"y":-9.5}]},
 "mark":{"type":"rule","color":"#9598a1","strokeDash":[4,4],"strokeWidth":1},
 "encoding":{"y":{"field":"y","type":"quantitative","axis":{"orient":"right"},"scale":{"domain":[-31.58,45.49],"nice":false,"zero":false}}}},
{"data":{"name":"w"},
 "mark":{"type":"rule","strokeWidth":1},
 "encoding":{
   "x":{"field":"d","type":"temporal","scale":{"domain":[{"year":2014,"month":4,"date":27},{"year":2022,"month":8,"date":21}]}},
   "y":{"field":"l","type":"quantitative","axis":{"orient":"right"},"scale":{"domain":[-31.58,45.49],"nice":false,"zero":false}},
   "y2":{"field":"h"},
   "color":{"condition":{"test":"datum.c>=datum.o","value":"#53b987"},"value":"#eb4d5c"}}},
{"data":{"name":"w"},
 "mark":{"type":"bar","size":3},
 "encoding":{
   "x":{"field":"d","type":"temporal","scale":{"domain":[{"year":2014,"month":4,"date":27},{"year":2022,"month":8,"date":21}]}},
   "y":{"field":"o","type":"quantitative","axis":{"orient":"right"},"scale":{"domain":[-31.58,45.49],"nice":false,"zero":false}},
   "y2":{"field":"c"},
   "color":{"condition":{"test":"datum.c>=datum.o","value":"#53b987"},"value":"#eb4d5c"}}},
{"data":{"name":"w"},
 "mark":{"type":"line","color":"#a052a8","strokeWidth":1.6},
 "encoding":{
   "x":{"field":"d","type":"temporal","scale":{"domain":[{"year":2014,"month":4,"date":27},{"year":2022,"month":8,"date":21}]}},
   "y":{"field":"e","type":"quantitative","axis":{"orient":"right"},"scale":{"domain":[-31.58,45.49],"nice":false,"zero":false}}}},
{"data":{"values":[
   {"x1":"2022-08-22","x2":"2022-10-04","y1":32.45,"y2":33.49,"k":"dxy"},
   {"x1":"2022-08-25","x2":"2022-10-06","y1":-26.47,"y2":-25.57,"k":"eur"},
   {"x1":"2022-08-26","x2":"2022-09-23","y1":-9.95,"y2":-9.05,"k":"cross"},
   {"x1":"2022-02-08","x2":"2022-04-10","y1":-32.87,"y2":-31.67,"k":"cross"}]},
 "mark":{"type":"rect"},
 "encoding":{
   "x":{"field":"x1","type":"temporal","scale":{"domain":[{"year":2014,"month":4,"date":27},{"year":2022,"month":8,"date":21}]}},
   "x2":{"field":"x2"},
   "y":{"field":"y1","type":"quantitative","axis":{"orient":"right"},"scale":{"domain":[-31.58,45.49],"nice":false,"zero":false}},
   "y2":{"field":"y2"},
   "color":{"field":"k","type":"nominal","scale":{"domain":["dxy","eur","cross"],"range":["#ef2b2b","#8e1a8e","#4d4d4d"]},"legend":null}}},
{"data":{"values":[
   {"d":"2022-09-12","v":32.97,"t":"32.97%"},
   {"d":"2022-09-15","v":-26.02,"t":"-26.02%"},
   {"d":"2022-09-09","v":-9.5,"t":"-9.54"},
   {"d":"2022-03-11","v":-32.27,"t":"2022-03-11"}]},
 "mark":{"type":"text","color":"#ffffff","fontSize":9.5,"fontWeight":"bold","align":"center","baseline":"middle"},
 "encoding":{
   "x":{"field":"d","type":"temporal","scale":{"domain":[{"year":2014,"month":4,"date":27},{"year":2022,"month":8,"date":21}]}},
   "y":{"field":"v","type":"quantitative","axis":{"orient":"right"},"scale":{"domain":[-31.58,45.49],"nice":false,"zero":false}},
   "text":{"field":"t"}}},
{"data":{"values":[
   {"d":"2014-05-21","v":44.03,"t":"US Dollar Index, United States, D, NYSE"}]},
 "mark":{"type":"text","color":"#3c3c3c","fontSize":12,"align":"left","baseline":"middle"},
 "encoding":{
   "x":{"field":"d","type":"temporal","scale":{"domain":[{"year":2014,"month":4,"date":27},{"year":2022,"month":8,"date":21}]}},
   "y":{"field":"v","type":"quantitative","axis":{"orient":"right"},"scale":{"domain":[-31.58,45.49],"nice":false,"zero":false}},
   "text":{"field":"t"}}},
{"data":{"values":[
   {"d":"2014-05-02","v":44.03,"t":"⊟"},
   {"d":"2015-02-26","v":44.03,"t":"▾"},
   {"d":"2014-09-08","v":42.6,"t":"▾"}]},
 "mark":{"type":"text","color":"#9a9a9a","fontSize":11,"align":"left","baseline":"middle","font":"DejaVu Sans"},
 "encoding":{
   "x":{"field":"d","type":"temporal","scale":{"domain":[{"year":2014,"month":4,"date":27},{"year":2022,"month":8,"date":21}]}},
   "y":{"field":"v","type":"quantitative","axis":{"orient":"right"},"scale":{"domain":[-31.58,45.49],"nice":false,"zero":false}},
   "text":{"field":"t"}}},
{"data":{"values":[
   {"d":"2015-03-16","v":44.03,"t":"▣"},
   {"d":"2015-04-01","v":44.03,"t":"▣"},
   {"d":"2014-09-28","v":42.6,"t":"▣"},
   {"d":"2014-10-13","v":42.6,"t":"▣"},
   {"d":"2014-10-28","v":42.6,"t":"▣"}]},
 "mark":{"type":"text","color":"#d2d2d2","fontSize":11,"align":"left","baseline":"middle","font":"DejaVu Sans"},
 "encoding":{
   "x":{"field":"d","type":"temporal","scale":{"domain":[{"year":2014,"month":4,"date":27},{"year":2022,"month":8,"date":21}]}},
   "y":{"field":"v","type":"quantitative","axis":{"orient":"right"},"scale":{"domain":[-31.58,45.49],"nice":false,"zero":false}},
   "text":{"field":"t"}}},
{"data":{"values":[
   {"d":"2015-04-18","v":44.03,"t":"O98.36"},
   {"d":"2015-06-09","v":44.03,"t":"H99.16"},
   {"d":"2015-07-31","v":44.03,"t":"L98.27"},
   {"d":"2015-09-21","v":44.03,"t":"C99.12"}]},
 "mark":{"type":"text","color":"#4a8a62","fontSize":12,"align":"left","baseline":"middle"},
 "encoding":{
   "x":{"field":"d","type":"temporal","scale":{"domain":[{"year":2014,"month":4,"date":27},{"year":2022,"month":8,"date":21}]}},
   "y":{"field":"v","type":"quantitative","axis":{"orient":"right"},"scale":{"domain":[-31.58,45.49],"nice":false,"zero":false}},
   "text":{"field":"t"}}},
{"data":{"values":[
   {"d":"2014-05-04","v":42.6,"t":"EUR/USD, REAL-TIME FX"}]},
 "mark":{"type":"text","color":"#555555","fontSize":8.5,"align":"left","baseline":"middle"},
 "encoding":{
   "x":{"field":"d","type":"temporal","scale":{"domain":[{"year":2014,"month":4,"date":27},{"year":2022,"month":8,"date":21}]}},
   "y":{"field":"v","type":"quantitative","axis":{"orient":"right"},"scale":{"domain":[-31.58,45.49],"nice":false,"zero":false}},
   "text":{"field":"t"}}},
{"data":{"values":[
   {"d":"2014-11-10","v":42.6,"t":"1.09"}]},
 "mark":{"type":"text","color":"#9c27b0","fontSize":9,"align":"left","baseline":"middle"},
 "encoding":{
   "x":{"field":"d","type":"temporal","scale":{"domain":[{"year":2014,"month":4,"date":27},{"year":2022,"month":8,"date":21}]}},
   "y":{"field":"v","type":"quantitative","axis":{"orient":"right"},"scale":{"domain":[-31.58,45.49],"nice":false,"zero":false}},
   "text":{"field":"t"}}},
{"data":{"values":[
   {"d":"2022-08-14","v":44.03,"t":"● Market Closed"}]},
 "mark":{"type":"text","color":"#a0a0a0","fontSize":9.5,"align":"right","baseline":"middle"},
 "encoding":{
   "x":{"field":"d","type":"temporal","scale":{"domain":[{"year":2014,"month":4,"date":27},{"year":2022,"month":8,"date":21}]}},
   "y":{"field":"v","type":"quantitative","axis":{"orient":"right"},"scale":{"domain":[-31.58,45.49],"nice":false,"zero":false}},
   "text":{"field":"t"}}},
{"data":{"values":[
   {"d":"2014-05-11","v":-30.37,"t":"Investing"}]},
 "mark":{"type":"text","color":"#1a1a1a","fontSize":15,"fontWeight":"bold","align":"left","baseline":"alphabetic"},
 "encoding":{
   "x":{"field":"d","type":"temporal","scale":{"domain":[{"year":2014,"month":4,"date":27},{"year":2022,"month":8,"date":21}]}},
   "y":{"field":"v","type":"quantitative","axis":{"orient":"right"},"scale":{"domain":[-31.58,45.49],"nice":false,"zero":false}},
   "text":{"field":"t"}}},
{"data":{"values":[
   {"d":"2014-08-02","v":-30.37,"t":".com"}]},
 "mark":{"type":"text","color":"#555555","fontSize":11,"align":"left","baseline":"alphabetic"},
 "encoding":{
   "x":{"field":"d","type":"temporal","scale":{"domain":[{"year":2014,"month":4,"date":27},{"year":2022,"month":8,"date":21}]}},
   "y":{"field":"v","type":"quantitative","axis":{"orient":"right"},"scale":{"domain":[-31.58,45.49],"nice":false,"zero":false}},
   "text":{"field":"t"}}}
]
}
